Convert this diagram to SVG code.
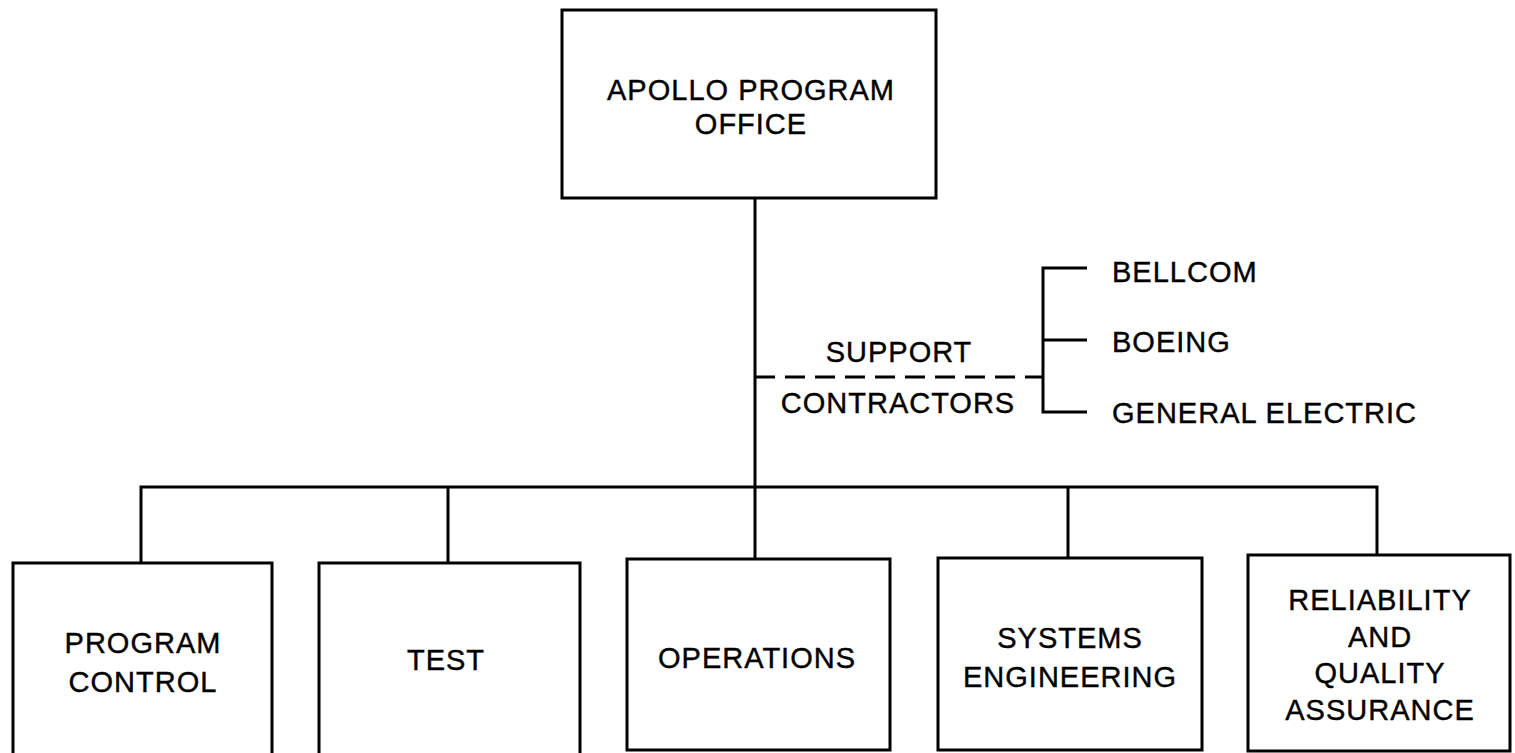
<svg xmlns="http://www.w3.org/2000/svg" width="1515" height="753" viewBox="0 0 1515 753">
<style>
.box{fill:#fff;stroke:#000;stroke-width:3}
.ln{fill:none;stroke:#000;stroke-width:3}
.dash{fill:none;stroke:#000;stroke-width:3;stroke-dasharray:20 10}
text{font-family:"Liberation Sans",Arial,sans-serif;font-size:29px;fill:#000;stroke:#000;stroke-width:0.4;letter-spacing:1px}
.c{text-anchor:middle}
</style>
<rect width="1515" height="753" fill="#fff"/>
<g id="connectors">
<path class="ln" d="M755 198V559"/>
<path class="ln" d="M141 563V487H1377V555"/>
<path class="ln" d="M448 487V563"/>
<path class="ln" d="M1068 487V558"/>
<path class="dash" d="M755 377H1043"/>
<path class="ln" d="M1087 268H1043V412H1087M1043 340H1087"/>
</g>
<g id="apollo">
<rect class="box" x="562" y="10" width="374" height="188"/>
<text class="c" x="751" y="100">APOLLO PROGRAM</text>
<text class="c" x="751" y="134">OFFICE</text>
</g>
<g id="support">
<text class="c" x="899" y="362">SUPPORT</text>
<text class="c" x="898" y="413">CONTRACTORS</text>
</g>
<g id="bellcom"><text x="1112" y="282">BELLCOM</text></g>
<g id="boeing"><text x="1112" y="352">BOEING</text></g>
<g id="ge"><text x="1112" y="423">GENERAL ELECTRIC</text></g>
<g id="program-control">
<rect class="box" x="13" y="563" width="259" height="200"/>
<text class="c" x="143" y="653">PROGRAM</text>
<text class="c" x="143" y="692">CONTROL</text>
</g>
<g id="test">
<rect class="box" x="319" y="563" width="261" height="200"/>
<text class="c" x="446" y="670">TEST</text>
</g>
<g id="operations">
<rect class="box" x="627" y="559" width="263" height="191"/>
<text class="c" x="757" y="668">OPERATIONS</text>
</g>
<g id="systems-engineering">
<rect class="box" x="938" y="558" width="264" height="192"/>
<text class="c" x="1070" y="648">SYSTEMS</text>
<text class="c" x="1070" y="687">ENGINEERING</text>
</g>
<g id="rqa">
<rect class="box" x="1248" y="555" width="262" height="196"/>
<text class="c" x="1380" y="610">RELIABILITY</text>
<text class="c" x="1380" y="647">AND</text>
<text class="c" x="1380" y="683">QUALITY</text>
<text class="c" x="1380" y="720">ASSURANCE</text>
</g>
</svg>
